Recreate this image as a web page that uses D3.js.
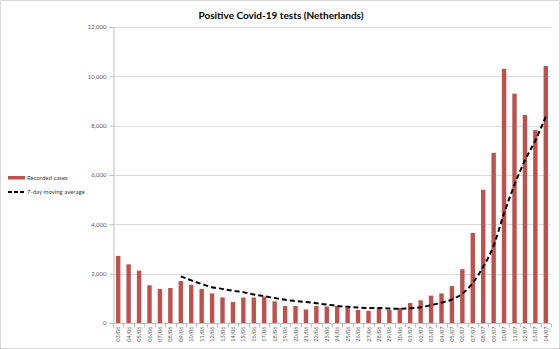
<!DOCTYPE html>
<html><head><meta charset="utf-8">
<script src="https://cdn.jsdelivr.net/npm/d3@7"></script>
<style>body{margin:0;background:#fff}svg{display:block}</style>
</head><body>
<svg id="c" width="560" height="349"></svg>
<script>
const dates = ["03/06","04/06","05/06","06/06","07/06","08/06","09/06","10/06","11/06","12/06","13/06","14/06","15/06","16/06","17/06","18/06","19/06","20/06","21/06","22/06","23/06","24/06","25/06","26/06","27/06","28/06","29/06","30/06","01/07","02/07","03/07","04/07","05/07","06/07","07/07","08/07","09/07","10/07","11/07","12/07","13/07","14/07"];
const cases = [2720,2380,2120,1530,1380,1420,1700,1550,1380,1200,1040,850,1030,1030,1070,880,690,690,550,690,670,690,610,530,490,590,530,610,810,920,1110,1200,1500,2180,3650,5400,6900,10300,9300,8430,7820,10420];
const avgDates = dates.slice(6);
const avg7 = [1893,1726,1583,1451,1381,1306,1250,1154,1086,1014,941,891,849,800,749,694,656,633,604,610,587,579,596,640,723,824,954,1190,1624,2280,3134,4447,5604,6594,7400,8367];
const yTicks = [0,2000,4000,6000,8000,10000,12000];
const title = "Positive Covid-19 tests (Netherlands)";
const legendLabels = ["Recorded cases","7-day moving average"];

const svg = d3.select("#c");
const font = "Lato, 'Open Sans', sans-serif";
svg.append("rect").attr("x",0.5).attr("y",0.5).attr("width",559).attr("height",348)
  .attr("fill","#fff").attr("stroke","#d9d9d9");

const L=113, R=551, T=27, B=323;
const x = d3.scaleBand().domain(dates).range([L,R]).paddingInner(0.58).paddingOuter(0.29);
const y = d3.scaleLinear().domain([0,12000]).range([B,T]);

// gridlines
svg.append("g").selectAll("line").data(yTicks.slice(1)).join("line")
  .attr("x1",L).attr("x2",R).attr("y1",d=>Math.round(y(d))+0.5).attr("y2",d=>Math.round(y(d))+0.5)
  .attr("stroke","#d9d9d9").attr("stroke-width",1);

// y axis
const ya = svg.append("g").attr("transform",`translate(${L+0.5},0)`)
  .call(d3.axisLeft(y).tickValues(yTicks).tickFormat(d3.format(",")).tickSize(4).tickPadding(3));
ya.select(".domain").attr("stroke","#bfbfbf");
ya.selectAll(".tick line").attr("stroke","#bfbfbf");
ya.selectAll("text").attr("font-family",font).attr("font-size",6).attr("fill","#595959");

// bars
svg.append("g").selectAll("rect").data(cases).join("rect")
  .attr("x",(d,i)=>x(dates[i])).attr("width",x.bandwidth())
  .attr("y",d=>y(d)).attr("height",d=>B-y(d)).attr("fill","#c0504d");

// x axis
const step = x.step();
const xa = svg.append("g").attr("transform",`translate(0,${B+0.5})`);
xa.append("line").attr("x1",L).attr("x2",R).attr("stroke","#bfbfbf");
xa.selectAll("line.t").data(d3.range(dates.length+1)).join("line").attr("class","t")
  .attr("x1",i=>Math.round(L+i*step)+0.5).attr("x2",i=>Math.round(L+i*step)+0.5)
  .attr("y1",0).attr("y2",4).attr("stroke","#bfbfbf");
xa.selectAll("text").data(dates).join("text")
  .attr("transform",d=>`translate(${x(d)+x.bandwidth()/2+2},3) rotate(-90)`)
  .attr("text-anchor","end").attr("font-family",font).attr("font-size",5.5).attr("fill","#595959")
  .text(d=>d);

// moving average
const line = d3.line().x((d,i)=>x(avgDates[i])+x.bandwidth()/2).y(d=>y(d)).curve(d3.curveMonotoneX);
svg.append("path").datum(avg7).attr("d",line).attr("fill","none")
  .attr("stroke","#000").attr("stroke-width",2).attr("stroke-dasharray","5,3");

// title
svg.append("text").attr("x",281).attr("y",19).attr("text-anchor","middle")
  .attr("font-family",font).attr("font-weight","bold").attr("font-size",10).attr("fill","#000").text(title);

// legend
svg.append("rect").attr("x",8).attr("y",176).attr("width",17).attr("height",3.5).attr("fill","#c0504d");
svg.append("line").attr("x1",8).attr("x2",25).attr("y1",192).attr("y2",192)
  .attr("stroke","#000").attr("stroke-width",2).attr("stroke-dasharray","4,2");
svg.append("g").selectAll("text").data(legendLabels).join("text")
  .attr("x",27).attr("y",(d,i)=>180+i*14).attr("font-family",font).attr("font-size",6).attr("fill","#404040").text(d=>d);
</script>
</body></html>
